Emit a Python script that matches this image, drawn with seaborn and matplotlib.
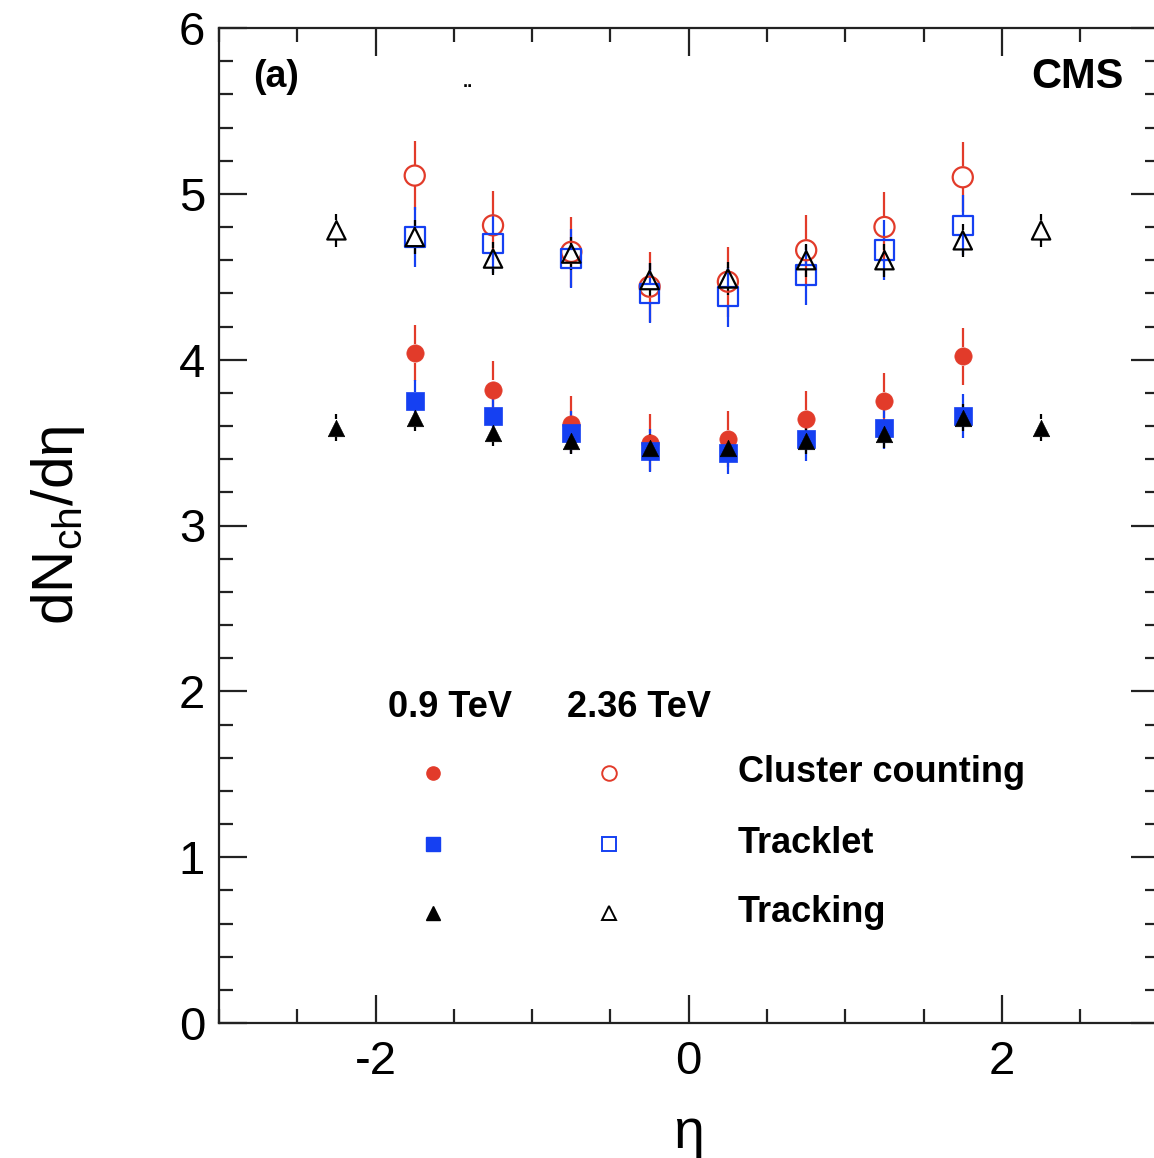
import numpy as np
import pandas as pd
import matplotlib
matplotlib.use("Agg")
import matplotlib.pyplot as plt
from matplotlib.ticker import MultipleLocator
import seaborn as sns

# ---------------- data ----------------
eta_full = [-2.25, -1.75, -1.25, -0.75, -0.25, 0.25, 0.75, 1.25, 1.75, 2.25]
eta_inner = [-1.75, -1.25, -0.75, -0.25, 0.25, 0.75, 1.25, 1.75]

cluster_09 = [4.04, 3.82, 3.61, 3.50, 3.52, 3.64, 3.75, 4.02]
tracklet_09 = [3.75, 3.66, 3.56, 3.45, 3.44, 3.52, 3.59, 3.66]
tracking_09 = [3.59, 3.65, 3.56, 3.51, 3.47, 3.47, 3.51, 3.55, 3.65, 3.59]

cluster_236 = [5.11, 4.81, 4.65, 4.44, 4.47, 4.66, 4.80, 5.10]
tracklet_236 = [4.74, 4.70, 4.61, 4.40, 4.38, 4.51, 4.66, 4.81]
tracking_236 = [4.78, 4.74, 4.61, 4.64, 4.48, 4.49, 4.60, 4.60, 4.72, 4.78]

cluster_09_err = [0.17] * 8
tracklet_09_err = [0.13] * 8
tracking_09_err = [0.08] * 10
cluster_236_err = [0.21] * 8
tracklet_236_err = [0.18] * 8
tracking_236_err = [0.10] * 10

methods = ["Cluster counting", "Tracklet", "Tracking"]
energies = ["0.9 TeV", "2.36 TeV"]

# ---------------- style ----------------
sns.set_style("ticks")
plt.rcParams["font.family"] = ["Liberation Sans", "DejaVu Sans"]
plt.rcParams["mathtext.fontset"] = "custom"
plt.rcParams["mathtext.rm"] = "Liberation Sans"
plt.rcParams["mathtext.it"] = "Liberation Sans:italic"
plt.rcParams["axes.unicode_minus"] = False
plt.rcParams["text.color"] = "black"
plt.rcParams["axes.labelcolor"] = "black"
plt.rcParams["xtick.color"] = "black"
plt.rcParams["ytick.color"] = "black"

RED = "#e23b2a"
BLUE = "#1540f2"
BLACK = "#000000"

fig = plt.figure(figsize=(11.54, 11.58), dpi=100)
W, H = 1154, 1158
ax = fig.add_axes([219 / W, (H - 1023) / H, (1158.5 - 219) / W, (1023 - 28) / H])

series = [
    (eta_inner, cluster_09, cluster_09_err, "o", RED, True, 155),
    (eta_inner, tracklet_09, tracklet_09_err, "s", BLUE, True, 150),
    (eta_full, tracking_09, tracking_09_err, "^", BLACK, True, 140),
    (eta_inner, cluster_236, cluster_236_err, "o", RED, False, 210),
    (eta_inner, tracklet_236, tracklet_236_err, "s", BLUE, False, 200),
    (eta_full, tracking_236, tracking_236_err, "^", BLACK, False, 175),
]

px_per_unit = 995 / 6.0
for x, y, e, m, c, filled, s in series:
    x = np.asarray(x)
    y = np.asarray(y)
    e = np.asarray(e)
    half = (np.sqrt(s) * 100 / 72) / 2 / px_per_unit + 0.005
    ax.vlines(x, y - e, np.minimum(y - half, y), colors=c, lw=1.6, zorder=2)
    ax.vlines(x, np.maximum(y + half, y), y + e, colors=c, lw=1.6, zorder=2)
    df = pd.DataFrame({"eta": x, "val": y})
    sns.scatterplot(data=df, x="eta", y="val", marker=m, s=s, color=c,
                    ax=ax, zorder=3, legend=False)
    coll = ax.collections[-1]
    if filled:
        coll.set_facecolor(c)
        coll.set_edgecolor(c)
        coll.set_linewidth(0.5)
    else:
        coll.set_facecolor("none")
        coll.set_edgecolor(c)
        coll.set_linewidth(1.6)

ax.set_xlim(-3, 3)
ax.set_ylim(0, 6)
ax.xaxis.set_major_locator(MultipleLocator(2))
ax.xaxis.set_minor_locator(MultipleLocator(0.5))
ax.yaxis.set_major_locator(MultipleLocator(1))
ax.yaxis.set_minor_locator(MultipleLocator(0.2))
ax.tick_params(which="both", direction="in", top=True, right=True,
               width=1.6, color="#222222")
ax.tick_params(which="major", length=20)
ax.tick_params(which="minor", length=10)
ax.tick_params(axis="x", which="major", labelsize=34, pad=12, labelcolor="black")
ax.tick_params(axis="y", which="major", labelsize=34, pad=10, labelcolor="black")
for sp in ax.spines.values():
    sp.set_linewidth(1.6)
    sp.set_color("#222222")

ax.set_xlabel("η", fontsize=40, color="black")
ax.set_ylabel(r"dN$_{\rm ch}$/dη", fontsize=42, color="black")
ax.xaxis.set_label_coords(0.5, -0.085)
ax.yaxis.set_label_coords(-0.14, 0.5)

# annotations
ax.text(0.036, 0.951, "(a)", transform=ax.transAxes, fontsize=27,
        fontweight="bold", ha="left", va="center", color="black")
ax.text(0.963, 0.951, "CMS", transform=ax.transAxes, fontsize=30,
        fontweight="bold", ha="right", va="center", color="black")
ax.text(0.265, 0.945, "..", transform=ax.transAxes, fontsize=13,
        fontweight="bold", ha="center", va="center", color="black")

# custom legend
ax.text(0.180, 0.3166, energies[0], transform=ax.transAxes, fontsize=26,
        fontweight="bold", ha="left", va="center", color="black")
ax.text(0.3706, 0.3166, energies[1], transform=ax.transAxes, fontsize=26,
        fontweight="bold", ha="left", va="center", color="black")
rows_y = [0.2513, 0.1799, 0.1106]
leg_markers = ["o", "s", "^"]
leg_colors = [RED, BLUE, BLACK]
for ry, m, c, lab in zip(rows_y, leg_markers, leg_colors, methods):
    ax.plot([0.228], [ry], transform=ax.transAxes, marker=m, ms=9.5,
            color=c, mec=c, ls="none", clip_on=False)
    ax.plot([0.415], [ry], transform=ax.transAxes, marker=m, ms=10.5,
            mfc="none", mec=c, mew=1.4, ls="none", clip_on=False)
    ax.text(0.552, ry, lab, transform=ax.transAxes, fontsize=26,
            fontweight="bold", ha="left", va="center", color="black")

fig.savefig("out.png", dpi=100)
